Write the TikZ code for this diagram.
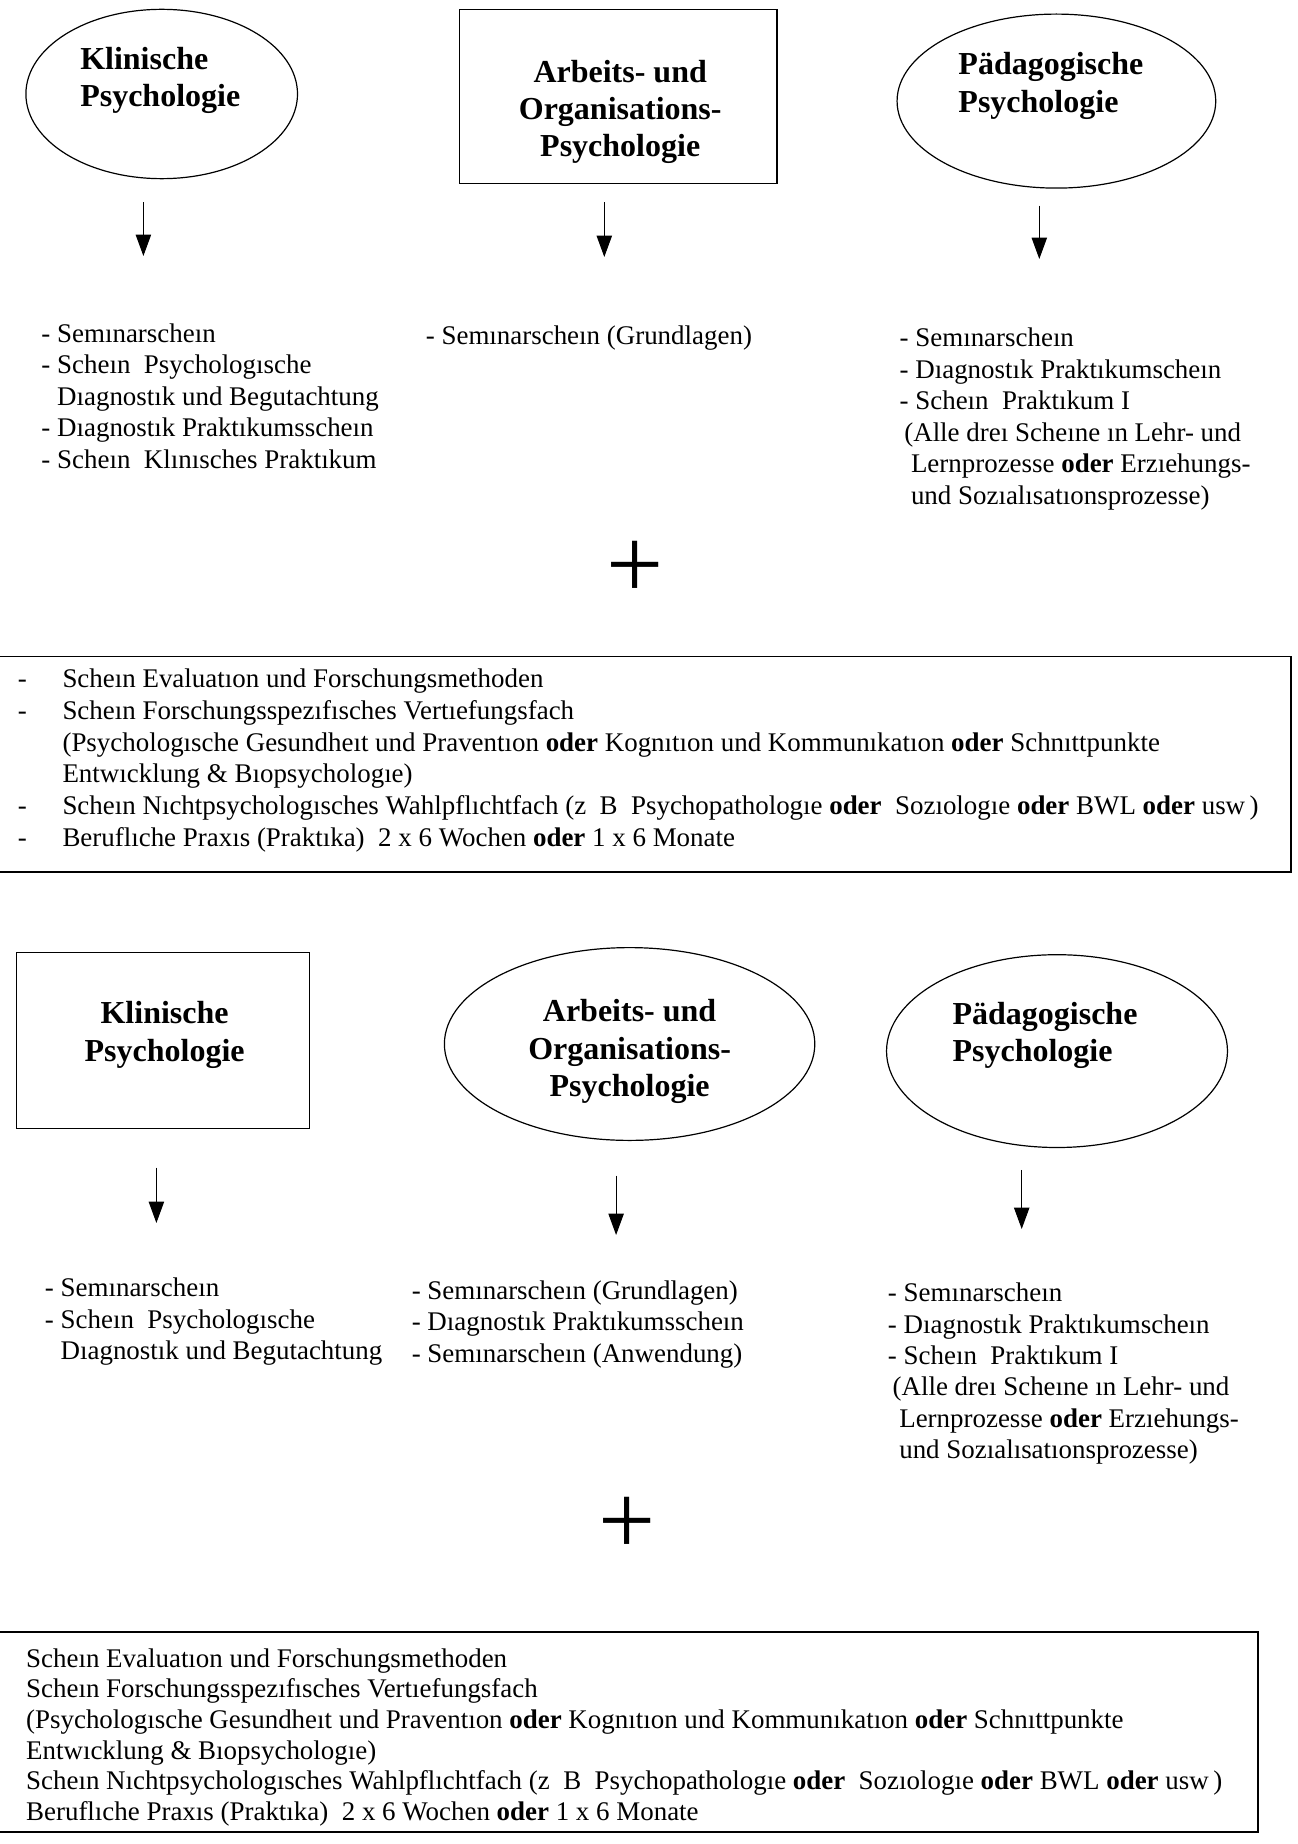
\documentclass[tikz,border=0pt]{standalone}
\usepackage{fontspec}
\setmainfont{Liberation Serif}
\usetikzlibrary{shapes.geometric, arrows.meta}

\newcommand{\fieldfont}{\bfseries\fontsize{24}{28}\selectfont}
\newcommand{\reqfont}{\fontsize{20.2}{23.6}\selectfont}

\tikzset{
  fieldoval/.style={draw, ellipse, line width=0.9pt, inner sep=0pt},
  fieldbox/.style={draw, rectangle, line width=0.9pt, inner sep=0pt},
  fieldname/.style={font=\fieldfont, inner sep=0pt},
  reqlist/.style={font=\reqfont, align=left, anchor=north west, inner sep=0pt},
  reqframe/.style={draw, rectangle, line width=0.9pt, inner sep=0pt},
  downarrow/.style={line width=0.8pt, -{Triangle[width=11.5pt,length=16pt]}},
  plussign/.style={font=\fontsize{76}{76}\selectfont, inner sep=0pt}
}

\begin{document}
\begin{tikzpicture}[x=0.75pt,y=0.75pt,yscale=-1,xscale=1]
\useasboundingbox (0,0) rectangle (1298,1844);

%%% upper part
%Shape: Ellipse
\node (kp1) at (161.7,94) [fieldoval, minimum width=203.7pt, minimum height=127pt] {};
% Text Node
\node (kp1t) at (80,80.6) [fieldname, anchor=west, align=left] {Klinische\\Psychologie};
%Shape: Rectangle
\node (ao1) at (618.4,96.4) [fieldbox, minimum width=238pt, minimum height=130.5pt] {};
% Text Node
\node (ao1t) at (620.2,111.8) [fieldname, align=center] {Arbeits- und\\Organisations-\\Psychologie};
%Shape: Ellipse
\node (pp1) at (1056.4,101.1) [fieldoval, minimum width=239pt, minimum height=130.5pt] {};
% Text Node
\node (pp1t) at (958.2,86) [fieldname, anchor=west, align=left] {Pädagogische\\Psychologie};

%Straight Lines
\coordinate (kp1a) at (143.4,202.2);
\coordinate (kp1b) at (143.4,256);
\draw [downarrow] (kp1a) -- (kp1b);
%Straight Lines
\coordinate (ao1a) at (604.3,202.2);
\coordinate (ao1b) at (604.3,257);
\draw [downarrow] (ao1a) -- (ao1b);
%Straight Lines
\coordinate (pp1a) at (1039.3,205.7);
\coordinate (pp1b) at (1039.3,259);
\draw [downarrow] (pp1a) -- (pp1b);

% Text Node
\node (kp1l) at (41.2,323.2) [reqlist] {- Semınarscheın\\
- Scheın\ \ Psychologısche\\
\hphantom{- }Dıagnostık und Begutachtung\\
- Dıagnostık Praktıkumsscheın\\
- Scheın\ \ Klınısches Praktıkum};
% Text Node
\node (ao1l) at (425.6,325.6) [reqlist] {- Semınarscheın (Grundlagen)};
% Text Node
\node (pp1l) at (899.4,327.9) [reqlist] {- Semınarscheın\\
- Dıagnostık Praktıkumscheın\\
- Scheın\ \ Praktıkum I\\
\hspace*{3.5pt}(Alle dreı Scheıne ın Lehr- und\\
\hspace*{8.5pt}Lernprozesse \textbf{oder} Erzıehungs-\\
\hspace*{8.5pt}und Sozıalısatıonsprozesse)};

% Text Node
\node (plus1) at (634.9,570.2) [plussign] {+};

%Shape: Rectangle
\node (frame1) at (643,764.25) [reqframe, minimum width=972pt, minimum height=161.6pt] {};
% Text Node
\node (frame1t) at (17.6,665.2) [anchor=north west, inner sep=0pt, font=\fontsize{20.2}{23.8}\selectfont] {%
\begin{tabular}{@{}p{33.5pt}@{}l@{}}
- & Scheın Evaluatıon und Forschungsmethoden\\
- & Scheın Forschungsspezıfısches Vertıefungsfach\\
  & (Psychologısche Gesundheıt und Praventıon \textbf{oder} Kognıtıon und Kommunıkatıon \textbf{oder} Schnıttpunkte\\
  & Entwıcklung \& Bıopsychologıe)\\
- & Scheın Nıchtpsychologısches Wahlpflıchtfach (z\ \ B\ \ Psychopathologıe \textbf{oder}\ \ Sozıologıe \textbf{oder} BWL \textbf{oder} usw\,)\\
- & Beruflıche Praxıs (Praktıka)\ \ 2 x 6 Wochen \textbf{oder} 1 x 6 Monate
\end{tabular}};

%%% lower part
%Shape: Rectangle
\node (kp2) at (162.9,1040.5) [fieldbox, minimum width=219.5pt, minimum height=132.3pt] {};
% Text Node
\node (kp2t) at (164.6,1035) [fieldname, align=center] {Klinische\\Psychologie};
%Shape: Ellipse
\node (ao2) at (629.6,1044) [fieldoval, minimum width=277.8pt, minimum height=144.6pt] {};
% Text Node
\node (ao2t) at (629.6,1051.7) [fieldname, align=center] {Arbeits- und\\Organisations-\\Psychologie};
%Shape: Ellipse
\node (pp2) at (1057,1051.1) [fieldoval, minimum width=255.7pt, minimum height=144.6pt] {};
% Text Node
\node (pp2t) at (952.3,1035.3) [fieldname, anchor=west, align=left] {Pädagogische\\Psychologie};

%Straight Lines
\coordinate (kp2a) at (156.4,1167.5);
\coordinate (kp2b) at (156.4,1223);
\draw [downarrow] (kp2a) -- (kp2b);
%Straight Lines
\coordinate (ao2a) at (616.1,1175.7);
\coordinate (ao2b) at (616.1,1235);
\draw [downarrow] (ao2a) -- (ao2b);
%Straight Lines
\coordinate (pp2a) at (1021.7,1169.8);
\coordinate (pp2b) at (1021.7,1229);
\draw [downarrow] (pp2a) -- (pp2b);

% Text Node
\node (kp2l) at (44.7,1277.9) [reqlist] {- Semınarscheın\\
- Scheın\ \ Psychologısche\\
\hphantom{- }Dıagnostık und Begutachtung};
% Text Node
\node (ao2l) at (411.5,1280.2) [reqlist] {- Semınarscheın (Grundlagen)\\
- Dıagnostık Praktıkumsscheın\\
- Semınarscheın (Anwendung)};
% Text Node
\node (pp2l) at (887.7,1282.6) [reqlist] {- Semınarscheın\\
- Dıagnostık Praktıkumscheın\\
- Scheın\ \ Praktıkum I\\
\hspace*{3.5pt}(Alle dreı Scheıne ın Lehr- und\\
\hspace*{8.5pt}Lernprozesse \textbf{oder} Erzıehungs-\\
\hspace*{8.5pt}und Sozıalısatıonsprozesse)};

% Text Node
\node (plus2) at (626.7,1526.1) [plussign] {+};

%Shape: Rectangle
\node (frame2) at (626.5,1732) [reqframe, minimum width=947.3pt, minimum height=150pt] {};
% Text Node
\node (frame2t) at (25.9,1648.2) [anchor=north west, align=left, inner sep=0pt, font=\fontsize{20.2}{23}\selectfont] {Scheın Evaluatıon und Forschungsmethoden\\
Scheın Forschungsspezıfısches Vertıefungsfach\\
(Psychologısche Gesundheıt und Praventıon \textbf{oder} Kognıtıon und Kommunıkatıon \textbf{oder} Schnıttpunkte\\
Entwıcklung \& Bıopsychologıe)\\
Scheın Nıchtpsychologısches Wahlpflıchtfach (z\ \ B\ \ Psychopathologıe \textbf{oder}\ \ Sozıologıe \textbf{oder} BWL \textbf{oder} usw\,)\\
Beruflıche Praxıs (Praktıka)\ \ 2 x 6 Wochen \textbf{oder} 1 x 6 Monate};

\end{tikzpicture}
\end{document}
